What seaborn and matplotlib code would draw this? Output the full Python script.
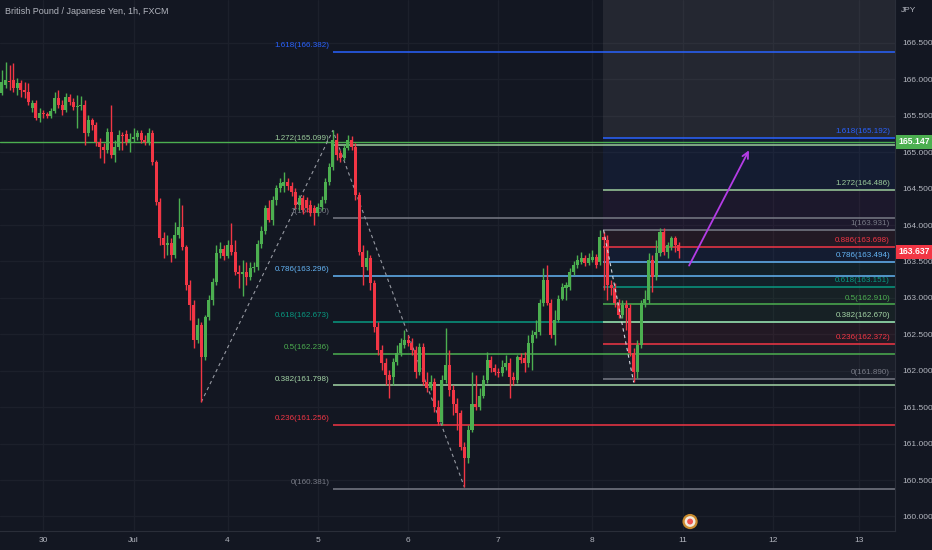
import matplotlib
matplotlib.use("Agg")
import matplotlib.pyplot as plt
import matplotlib.font_manager as fm
from matplotlib.patches import Rectangle
import seaborn as sns
import pandas as pd
import numpy as np

# ── Data (GBPJPY 1h, FXCM, 30 Jun - 8 Jul) ────────────────────────────────────

opens = [
    165.81, 165.92, 165.98, 165.99, 165.88, 165.95, 165.85, 165.83, 165.61, 165.68,
    165.47, 165.54, 165.52, 165.50, 165.57, 165.74, 165.65, 165.58, 165.76, 165.69,
    165.62, 165.63, 165.65, 165.26, 165.44, 165.37, 165.14, 165.07, 165.03, 165.28,
    164.96, 165.07, 165.24, 165.25, 165.14, 165.18, 165.21, 165.26, 165.17, 165.14,
    165.26, 164.87, 164.32, 163.82, 163.73, 163.75, 163.59, 163.86, 163.97, 163.70,
    163.18, 162.90, 162.42, 162.63, 162.19, 162.74, 162.97, 163.22, 163.62, 163.67,
    163.57, 163.73, 163.63, 163.35, 163.33, 163.35, 163.29, 163.41, 163.42, 163.74,
    163.92, 164.23, 164.07, 164.34, 164.51, 164.54, 164.59, 164.54, 164.45, 164.27,
    164.37, 164.34, 164.27, 164.23, 164.16, 164.25, 164.34, 164.59, 164.80, 165.17,
    164.99, 164.92, 165.06, 165.17, 165.07, 164.41, 163.63, 163.42, 163.55, 163.20,
    162.60, 162.28, 162.10, 161.94, 161.91, 162.12, 162.24, 162.35, 162.42, 162.38,
    162.28, 161.98, 162.32, 161.84, 161.77, 161.84, 161.50, 161.29, 161.87, 162.08,
    161.73, 161.55, 161.42, 160.95, 160.80, 161.18, 161.55, 161.50, 161.66, 161.87,
    162.15, 162.04, 161.98, 161.97, 162.05, 162.10, 161.91, 161.87, 162.19, 162.17,
    162.10, 162.38, 162.49, 162.53, 162.93, 163.24, 162.93, 162.49, 162.70, 162.99,
    163.13, 163.15, 163.35, 163.45, 163.49, 163.55, 163.48, 163.52, 163.56, 163.49,
    163.84, 163.79, 163.18, 163.13, 162.93, 162.76, 162.90, 162.86, 162.24, 161.98,
    162.35, 162.93, 162.97, 163.52, 163.29, 163.62, 163.90, 163.63, 163.70, 163.82,
    163.73,
]
highs = [
    166.13, 166.24, 166.20, 166.23, 166.02, 165.99, 165.96, 165.95, 165.72, 165.72,
    165.61, 165.58, 165.55, 165.61, 165.83, 165.85, 165.72, 165.81, 165.80, 165.74,
    165.79, 165.77, 165.72, 165.51, 165.47, 165.41, 165.20, 165.13, 165.33, 165.65,
    165.17, 165.30, 165.28, 165.30, 165.26, 165.33, 165.30, 165.30, 165.24, 165.33,
    165.30, 164.89, 164.37, 163.90, 163.86, 163.82, 164.04, 164.37, 164.27, 163.73,
    163.24, 162.97, 162.72, 162.67, 162.76, 163.04, 163.27, 163.73, 163.77, 163.73,
    163.79, 164.03, 163.79, 163.45, 163.52, 163.49, 163.49, 163.49, 163.79, 163.99,
    164.27, 164.34, 164.40, 164.55, 164.65, 164.73, 164.65, 164.59, 164.51, 164.41,
    164.41, 164.38, 164.34, 164.27, 164.30, 164.40, 164.65, 164.85, 165.30, 165.26,
    165.03, 165.10, 165.24, 165.22, 165.13, 164.45, 163.73, 163.66, 163.59, 163.24,
    162.67, 162.35, 162.17, 162.01, 162.17, 162.35, 162.45, 162.56, 162.49, 162.45,
    162.34, 162.38, 162.38, 161.98, 161.94, 161.90, 161.60, 161.94, 162.59, 162.28,
    161.80, 161.62, 161.46, 161.02, 161.25, 161.98, 161.94, 161.76, 161.94, 162.26,
    162.20, 162.09, 162.04, 162.15, 162.21, 162.17, 161.98, 162.21, 162.24, 162.26,
    162.49, 162.56, 162.70, 162.99, 163.41, 163.45, 162.99, 162.83, 163.04, 163.20,
    163.22, 163.41, 163.51, 163.59, 163.63, 163.59, 163.62, 163.66, 163.60, 163.93,
    163.90, 163.86, 163.24, 163.20, 162.99, 162.97, 162.97, 162.91, 162.31, 162.42,
    162.97, 163.11, 163.62, 163.59, 163.79, 163.96, 163.96, 163.77, 163.85, 163.85,
    163.77,
]
lows = [
    165.79, 165.88, 165.85, 165.83, 165.79, 165.76, 165.74, 165.65, 165.55, 165.44,
    165.41, 165.47, 165.47, 165.47, 165.54, 165.61, 165.51, 165.55, 165.65, 165.58,
    165.33, 165.58, 165.10, 165.22, 165.30, 165.09, 164.92, 164.85, 164.99, 164.92,
    164.87, 165.03, 165.03, 165.10, 165.00, 165.14, 165.17, 165.13, 165.10, 165.10,
    164.82, 164.27, 163.73, 163.55, 163.59, 163.49, 163.55, 163.82, 163.66, 163.11,
    162.70, 162.31, 162.38, 161.57, 162.15, 162.70, 162.90, 163.18, 163.55, 163.52,
    163.55, 163.59, 163.31, 163.13, 163.02, 163.18, 163.24, 163.35, 163.38, 163.68,
    163.88, 164.04, 164.00, 164.27, 164.45, 164.45, 164.48, 164.40, 164.23, 164.21,
    164.15, 164.18, 164.12, 164.00, 164.12, 164.21, 164.30, 164.55, 164.76, 164.89,
    164.87, 164.89, 165.03, 165.03, 164.34, 163.59, 163.18, 163.38, 163.11, 162.53,
    162.21, 162.01, 161.80, 161.62, 161.80, 162.08, 162.20, 162.31, 162.34, 162.21,
    161.90, 161.94, 161.80, 161.71, 161.73, 161.43, 161.25, 161.25, 161.83, 161.66,
    161.39, 161.18, 160.91, 160.40, 160.74, 161.16, 161.46, 161.46, 161.62, 161.83,
    161.98, 161.94, 161.91, 161.93, 162.01, 161.62, 161.80, 161.83, 162.10, 161.98,
    162.05, 162.01, 162.45, 162.49, 162.89, 162.90, 162.45, 162.35, 162.67, 162.97,
    162.97, 163.11, 163.31, 163.41, 163.46, 163.44, 163.45, 163.49, 163.41, 163.45,
    163.11, 162.97, 163.04, 162.87, 162.72, 162.72, 162.56, 162.20, 161.84, 161.90,
    162.31, 162.87, 162.93, 163.08, 163.24, 163.57, 163.59, 163.55, 163.66, 163.63,
    163.55,
]
closes = [
    165.96, 165.99, 165.96, 165.88, 165.95, 165.85, 165.83, 165.69, 165.68, 165.47,
    165.54, 165.52, 165.50, 165.57, 165.74, 165.65, 165.58, 165.76, 165.69, 165.62,
    165.63, 165.65, 165.26, 165.44, 165.37, 165.14, 165.07, 165.03, 165.28, 164.96,
    165.07, 165.24, 165.22, 165.14, 165.18, 165.21, 165.26, 165.17, 165.14, 165.26,
    164.87, 164.32, 163.82, 163.73, 163.75, 163.59, 163.86, 163.97, 163.70, 163.18,
    162.90, 162.42, 162.63, 162.19, 162.74, 162.97, 163.22, 163.62, 163.67, 163.57,
    163.73, 163.63, 163.35, 163.33, 163.35, 163.29, 163.41, 163.42, 163.74, 163.92,
    164.23, 164.07, 164.34, 164.51, 164.58, 164.59, 164.54, 164.45, 164.27, 164.37,
    164.21, 164.23, 164.16, 164.16, 164.25, 164.34, 164.59, 164.80, 165.17, 164.96,
    164.92, 165.06, 165.17, 165.07, 164.41, 163.63, 163.42, 163.55, 163.20, 162.60,
    162.28, 162.10, 161.94, 161.87, 162.12, 162.24, 162.38, 162.42, 162.38, 162.28,
    161.98, 162.32, 161.84, 161.77, 161.84, 161.50, 161.29, 161.87, 162.08, 161.73,
    161.55, 161.42, 160.95, 160.80, 161.18, 161.55, 161.50, 161.66, 161.87, 162.15,
    162.04, 161.98, 161.97, 162.05, 162.10, 161.91, 161.87, 162.19, 162.15, 162.10,
    162.38, 162.49, 162.53, 162.93, 163.24, 162.93, 162.49, 162.70, 162.99, 163.15,
    163.18, 163.35, 163.45, 163.52, 163.55, 163.48, 163.55, 163.56, 163.45, 163.84,
    163.79, 163.18, 163.13, 162.93, 162.76, 162.90, 162.86, 162.24, 161.98, 162.35,
    162.93, 162.99, 163.52, 163.29, 163.62, 163.90, 163.63, 163.73, 163.82, 163.73,
    163.64,
]

# day boundaries (bar index) and their labels
day_bar = [11, 35, 60, 84, 108, 132, 157, 181, 205, 228]
day_labels = ["30", "Jul", "4", "5", "6", "7", "8", "11", "12", "13"]

# fib extension #1 : anchors (bar, price)
fib1_anchor_bar = [53, 88, 123]
fib1_anchor_px = [161.57, 165.30, 160.40]
fib1_ratio = ["1.618", "1.272", "1", "0.786", "0.618", "0.5", "0.382", "0.236", "0"]
fib1_price = [166.382, 165.099, 164.100, 163.296, 162.673, 162.236, 161.798, 161.256, 160.381]

# fib extension #2
fib2_anchor_bar = [160, 168]
fib2_anchor_px = [163.93, 161.84]
fib2_ratio = ["1.618", "1.272", "1", "0.886", "0.786", "0.618", "0.5", "0.382", "0.236", "0"]
fib2_price = [165.192, 164.486, 163.931, 163.698, 163.494, 163.151, 162.910, 162.670, 162.372, 161.890]

alert_level = 165.147
last_price = 163.637
arrow_from = (182.4, 163.41)
arrow_to = (199.0, 165.06)
event_bar = 183

# ── Style ─────────────────────────────────────────────────────────────────────

BG = "#131722"
GRID = "#1c202b"
TXT = "#b2b5be"
UP, DOWN = "#4caf50", "#f23645"

FIB_COL = {
    "1.618": "#2962ff", "1.272": "#9ccc9c", "1": "#787b86", "0.886": "#f23645",
    "0.786": "#64b5f6", "0.618": "#089981", "0.5": "#4caf50", "0.382": "#a5d6a7",
    "0.236": "#f23645", "0": "#787b86",
}
FILL_COL = {
    "1.618": "#2962ff", "1.272": "#9c27b0", "1": "#f23645", "0.886": "#2962ff",
    "0.786": "#089981", "0.618": "#4caf50", "0.5": "#4caf50", "0.382": "#f23645",
    "0.236": "#787b86",
}

sns.set_theme(style="dark", rc={"axes.facecolor": BG, "figure.facecolor": BG})
installed = {f.name for f in fm.fontManager.ttflist}
fam = [f for f in ["Liberation Sans Narrow", "Liberation Sans", "DejaVu Sans"] if f in installed]
plt.rcParams["font.family"] = fam

df = pd.DataFrame({"open": opens, "high": highs, "low": lows, "close": closes})
df["bar"] = np.arange(len(df))
df["color"] = np.where(df["close"] >= df["open"], UP, DOWN)

W, H = 932, 550
AX_L, AX_B, AX_W, AX_H = 0, 19, 895, 531          # plot area in pixels
YMIN, YMAX = 159.80, 167.09
XMIN, XMAX = -0.53, 237.5

fig = plt.figure(figsize=(W / 100, H / 100), dpi=100)
ax = fig.add_axes([AX_L / W, AX_B / H, AX_W / W, AX_H / H])
ax.set_xlim(XMIN, XMAX)
ax.set_ylim(YMIN, YMAX)

# grid
for y in np.arange(160.0, 167.0, 0.5):
    ax.axhline(y, color=GRID, lw=0.9, zorder=0)
for b in day_bar:
    ax.axvline(b, color=GRID, lw=0.9, zorder=0)

# ── Fib #2 fills ──────────────────────────────────────────────────────────────
x2 = [fib2_anchor_bar[0] - 0.2, XMAX]
ax.fill_between(x2, fib2_price[0], YMAX, color="#a0a0a0", alpha=0.12, lw=0, zorder=0.5)
for i in range(len(fib2_price) - 1):
    ax.fill_between(x2, fib2_price[i + 1], fib2_price[i],
                    color=FILL_COL[fib2_ratio[i]], alpha=0.07, lw=0, zorder=0.5)

# ── Fib lines & labels ────────────────────────────────────────────────────────
FS = 5.8
for r, p in zip(fib1_ratio, fib1_price):
    ax.hlines(p, fib1_anchor_bar[1], XMAX, color=FIB_COL[r], lw=1.1, zorder=1)
    ax.text(fib1_anchor_bar[1] - 0.9, p + 0.04, f"{r}({p:.3f})", color=FIB_COL[r],
            fontsize=FS, ha="right", va="bottom", zorder=1)

for r, p in zip(fib2_ratio, fib2_price):
    ax.hlines(p, x2[0], x2[1], color=FIB_COL[r], lw=1.1, zorder=1)
    ax.text(236.2, p + 0.04, f"{r}({p:.3f})", color=FIB_COL[r],
            fontsize=FS, ha="right", va="bottom", zorder=1)

# alert line
ax.axhline(alert_level, color=UP, lw=1.0, zorder=1)

# dashed swing lines
sns.lineplot(x=fib1_anchor_bar, y=fib1_anchor_px, ax=ax, color="#9598a1",
             lw=0.8, linestyle=(0, (3, 3)), sort=False, zorder=1.5)
sns.lineplot(x=fib2_anchor_bar, y=fib2_anchor_px, ax=ax, color="#d1d4dc",
             lw=0.8, linestyle=(0, (3, 3)), sort=False, zorder=3.5)

# ── Candles ───────────────────────────────────────────────────────────────────
ax.vlines(df["bar"], df["low"], df["high"], colors=df["color"], lw=1.0, zorder=3)
body_lo = df[["open", "close"]].min(axis=1)
body_h = (df["close"] - df["open"]).abs().clip(lower=0.015)
ax.bar(df["bar"], body_h, bottom=body_lo, width=0.8, color=df["color"], lw=0, zorder=3)

# arrow
ax.annotate("", xy=arrow_to, xytext=arrow_from,
            arrowprops=dict(arrowstyle="->", color="#b43ce6", lw=1.3, mutation_scale=11),
            zorder=4)

# event marker
ev = pd.DataFrame({"x": [event_bar] * 3, "y": [159.93] * 3})
sns.scatterplot(data=ev.iloc[:1], x="x", y="y", ax=ax, s=120, color="#c98a2e",
                edgecolor="none", zorder=5, legend=False)
sns.scatterplot(data=ev.iloc[1:2], x="x", y="y", ax=ax, s=60, color="#f3e9dc",
                edgecolor="none", zorder=5, legend=False)
sns.scatterplot(data=ev.iloc[2:], x="x", y="y", ax=ax, s=18, color="#ef5350",
                edgecolor="none", zorder=5, legend=False)

# ── Axes ──────────────────────────────────────────────────────────────────────
ax.set_xlabel("")
ax.set_ylabel("")
ax.set_xticks(day_bar)
ax.set_xticklabels(day_labels)
yt = np.arange(160.0, 166.51, 0.5)
ax.yaxis.tick_right()
ax.set_yticks(yt)
ax.set_yticklabels([f"{v:.3f}" for v in yt])
ax.tick_params(axis="y", length=0, pad=5, labelsize=6.0, colors=TXT)
ax.tick_params(axis="x", length=0, pad=4.5, labelsize=6.0, colors=TXT)
ax.grid(False)
for s in ["top", "left"]:
    ax.spines[s].set_visible(False)
for s in ["right", "bottom"]:
    ax.spines[s].set_color("#2a2e39")
    ax.spines[s].set_linewidth(0.8)

# price boxes on the scale
for val, col in [(alert_level, UP), (last_price, DOWN)]:
    yc = AX_B + (val - YMIN) / (YMAX - YMIN) * AX_H
    fig.patches.append(Rectangle(((AX_W + 1) / W, (yc - 7) / H), (W - AX_W - 1) / W, 14 / H,
                                 transform=fig.transFigure, fc=col, ec="none", zorder=6))
    fig.text((AX_W + 3) / W, yc / H, f"{val:.3f}", ha="left", va="center",
             fontsize=6.2, color="white", fontweight="bold", zorder=7)

fig.text(5 / W, 1 - 11 / H, "British Pound / Japanese Yen, 1h, FXCM",
         fontsize=6.5, color=TXT, va="center", ha="left")
fig.text(901 / W, 1 - 11 / H, "JPY", fontsize=6.0, color=TXT, va="center", ha="left")

fig.savefig("out.png", dpi=100, facecolor=BG)
